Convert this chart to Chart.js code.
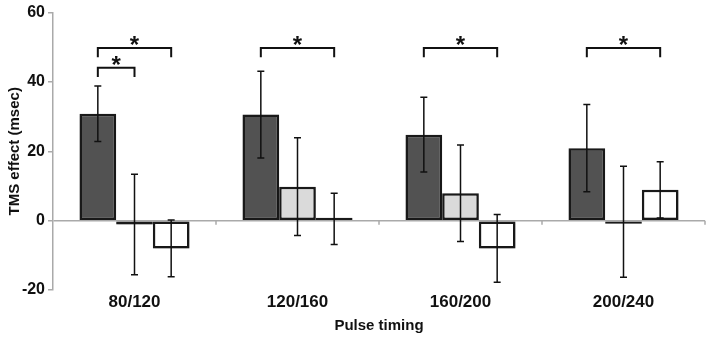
<!DOCTYPE html>
<html>
<head>
<meta charset="utf-8">
<script src="https://cdn.jsdelivr.net/npm/chart.js@4/dist/chart.umd.min.js"></script>
<style>
  html, body { margin: 0; padding: 0; background: #fff; }
  #wrap { width: 709px; height: 339px; }
</style>
</head>
<body>
<div id="wrap"><canvas id="diagram"></canvas></div>
<script>
// pulse timing groups
const labels = ["80/120", "120/160", "160/200", "200/240"];

// TMS effect (msec), three conditions
const darkValues = [30.8, 30.6, 24.8, 20.9];
const darkErr = [8.0, 12.5, 10.8, 12.6];
const lightValues = [-1.1, 9.8, 7.9, -0.3];
const lightErr = [14.5, 14.1, 13.9, 16.0];
const whiteValues = [-8.0, 0.5, -8.0, 8.9];
const whiteErr = [8.2, 7.4, 9.8, 8.1];

const yTicks = [-20, 0, 20, 40, 60];

// significance brackets: group, bar from, bar to, line height, foot height
const sigGroup = [0, 0, 1, 2, 3];
const sigFrom = [0, 0, 0, 0, 0];
const sigTo = [1, 2, 2, 2, 2];
const sigTop = [44.1, 49.8, 49.8, 49.8, 49.8];
const sigFoot = [41.4, 47.1, 47.1, 47.1, 47.1];

const errors = [darkErr, lightErr, whiteErr];

// schaduw onder de balken
const shadowPlugin = {
  id: "shadow",
  beforeDatasetsDraw(chart) {
    const ctx = chart.ctx;
    ctx.save();
    ctx.shadowColor = "rgba(0,0,0,0.25)";
    ctx.shadowBlur = 3;
    ctx.shadowOffsetX = 1;
    ctx.shadowOffsetY = 1;
  },
  afterDatasetsDraw(chart) {
    chart.ctx.restore();
  }
};

// foutbalken, kleine streepjes op de nul-lijn, haken met sterretjes
const extrasPlugin = {
  id: "extras",
  afterDatasetsDraw(chart) {
    const ctx = chart.ctx;
    const y = chart.scales.y;
    const x = chart.scales.x;
    ctx.save();

    // category ticks on the zero line
    const zeroY = y.getPixelForValue(0);
    const catW = (x.right - x.left) / labels.length;
    ctx.strokeStyle = "#aaa";
    ctx.lineWidth = 1.5;
    for (let i = 1; i <= labels.length; i++) {
      const px = x.left + catW * i;
      ctx.beginPath();
      ctx.moveTo(px, zeroY);
      ctx.lineTo(px, zeroY + 4);
      ctx.stroke();
    }

    // error bars
    ctx.strokeStyle = "#111";
    ctx.lineWidth = 1.5;
    chart.data.datasets.forEach((ds, i) => {
      const meta = chart.getDatasetMeta(i);
      meta.data.forEach((bar, j) => {
        const v = ds.data[j];
        const top = y.getPixelForValue(v + errors[i][j]);
        const bot = y.getPixelForValue(v - errors[i][j]);
        ctx.beginPath();
        ctx.moveTo(bar.x, top);
        ctx.lineTo(bar.x, bot);
        ctx.moveTo(bar.x - 3.5, top);
        ctx.lineTo(bar.x + 3.5, top);
        ctx.moveTo(bar.x - 3.5, bot);
        ctx.lineTo(bar.x + 3.5, bot);
        ctx.stroke();
      });
    });

    // significance brackets
    ctx.strokeStyle = "#111";
    ctx.lineWidth = 2;
    ctx.fillStyle = "#111";
    ctx.font = "bold 24px Arial, 'Liberation Sans', sans-serif";
    ctx.textAlign = "center";
    ctx.textBaseline = "alphabetic";
    const m = ctx.measureText("*");
    const mid = (m.actualBoundingBoxDescent - m.actualBoundingBoxAscent) / 2;
    for (let k = 0; k < sigGroup.length; k++) {
      const x1 = chart.getDatasetMeta(sigFrom[k]).data[sigGroup[k]].x;
      const x2 = chart.getDatasetMeta(sigTo[k]).data[sigGroup[k]].x;
      const yt = y.getPixelForValue(sigTop[k]);
      const yf = y.getPixelForValue(sigFoot[k]);
      ctx.beginPath();
      ctx.moveTo(x1, yf);
      ctx.lineTo(x1, yt);
      ctx.lineTo(x2, yt);
      ctx.lineTo(x2, yf);
      ctx.stroke();
      ctx.fillText("*", (x1 + x2) / 2, yt - 7 - mid);
    }
    ctx.restore();
  }
};

const datasets = [
  {
    label: "dark",
    data: darkValues,
    backgroundColor: "#525252",
    borderColor: "#1a1a1a",
    borderWidth: 2.5,
  },
  {
    label: "light",
    data: lightValues,
    backgroundColor: "#dadada",
    borderColor: "#1a1a1a",
    borderWidth: 2.5,
  },
  {
    label: "white",
    data: whiteValues,
    backgroundColor: "#ffffff",
    borderColor: "#1a1a1a",
    borderWidth: 2.5,
  },
];

const config = {
  type: "bar",
  data: { labels, datasets },
  plugins: [shadowPlugin, extrasPlugin],
  options: {
    responsive: true,
    maintainAspectRatio: false,
    animation: false,
    layout: { padding: { top: 0, right: 4, left: 0, bottom: 0 } },
    datasets: {
      bar: {
        categoryPercentage: 0.675,
        barPercentage: 1.0,
        borderSkipped: false,
        minBarLength: 3,
      }
    },
    plugins: {
      legend: { display: false },
      tooltip: { enabled: false },
    },
    scales: {
      x: {
        afterFit: (s) => { s.height = 49; },
        grid: { display: false, drawTicks: false },
        border: { display: false },
        ticks: {
          color: "#111",
          padding: 2,
          font: { family: "Arial, 'Liberation Sans'", size: 17, weight: "bold" },
        },
        title: {
          display: true,
          text: "Pulse timing",
          color: "#111",
          padding: { top: 4, bottom: 4 },
          font: { family: "Arial, 'Liberation Sans'", size: 15, weight: "bold" },
        },
      },
      y: {
        min: -20,
        max: 60,
        afterBuildTicks: (s) => { s.ticks = yTicks.map((v) => ({ value: v })); },
        afterFit: (s) => { s.width = 53; },
        border: { color: "#aaa", width: 1.5 },
        grid: {
          color: (c) => (c.tick && c.tick.value === 0 ? "#aaa" : "rgba(0,0,0,0)"),
          lineWidth: 1.5,
          tickColor: "#aaa",
          tickLength: 5,
        },
        ticks: {
          color: "#111",
          padding: 3,
          font: { family: "Arial, 'Liberation Sans'", size: 16, weight: "bold" },
        },
        title: {
          display: true,
          text: "TMS effect (msec)",
          color: "#111",
          padding: { top: 6, bottom: 0 },
          font: { family: "Arial, 'Liberation Sans'", size: 15, weight: "bold" },
        },
      },
    },
  },
};

const canvas = document.getElementById("diagram");
const chart = new Chart(canvas, config);
</script>
</body>
</html>
